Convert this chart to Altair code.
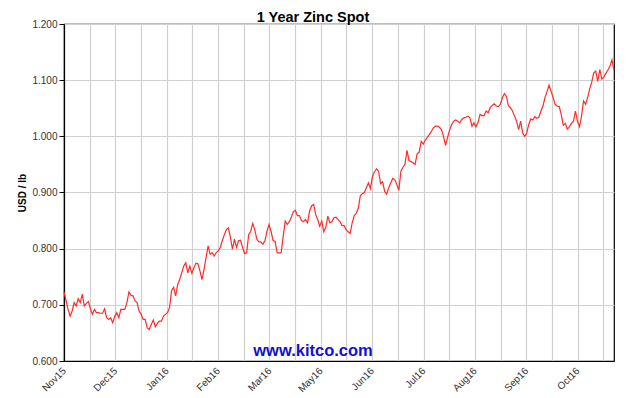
import json
import altair as alt
import pandas as pd

# Zinc spot price, USD / lb (about one point per trading day)
zinc_usd_lb = [
    0.723, 0.708, 0.692, 0.680, 0.689, 0.704, 0.698, 0.711, 0.704, 0.719,
    0.698, 0.702, 0.706, 0.693, 0.683, 0.692, 0.686, 0.686, 0.685, 0.685,
    0.693, 0.677, 0.674, 0.677, 0.668, 0.680, 0.686, 0.677, 0.692, 0.692,
    0.692, 0.704, 0.723, 0.717, 0.716, 0.707, 0.704, 0.689, 0.683, 0.674,
    0.674, 0.659, 0.656, 0.665, 0.673, 0.661, 0.667, 0.671, 0.671, 0.680,
    0.683, 0.686, 0.695, 0.725, 0.731, 0.716, 0.736, 0.745, 0.757, 0.769,
    0.775, 0.757, 0.769, 0.756, 0.766, 0.774, 0.773, 0.760, 0.745, 0.763,
    0.784, 0.805, 0.790, 0.793, 0.787, 0.793, 0.796, 0.802, 0.814, 0.825,
    0.834, 0.837, 0.820, 0.799, 0.817, 0.802, 0.814, 0.815, 0.802, 0.791,
    0.793, 0.825, 0.831, 0.845, 0.834, 0.817, 0.812, 0.812, 0.808, 0.814,
    0.831, 0.843, 0.831, 0.815, 0.813, 0.793, 0.792, 0.793, 0.822, 0.849,
    0.843, 0.848, 0.856, 0.866, 0.868, 0.859, 0.859, 0.850, 0.848, 0.852,
    0.846, 0.867, 0.876, 0.879, 0.861, 0.852, 0.840, 0.849, 0.830, 0.838,
    0.858, 0.846, 0.848, 0.855, 0.856, 0.852, 0.848, 0.841, 0.841, 0.834,
    0.830, 0.827, 0.846, 0.859, 0.863, 0.872, 0.894, 0.898, 0.900, 0.909,
    0.917, 0.907, 0.929, 0.937, 0.942, 0.938, 0.916, 0.919, 0.902, 0.897,
    0.909, 0.917, 0.925, 0.923, 0.914, 0.904, 0.938, 0.945, 0.950, 0.975,
    0.957, 0.955, 0.953, 0.950, 0.969, 0.972, 0.991, 0.986, 0.993, 0.998,
    1.003, 1.009, 1.015, 1.018, 1.018, 1.016, 1.012, 1.000, 0.984, 0.998,
    1.011, 1.021, 1.027, 1.029, 1.027, 1.024, 1.030, 1.033, 1.034, 1.036,
    1.033, 1.018, 1.024, 1.017, 1.025, 1.039, 1.037, 1.037, 1.045, 1.042,
    1.051, 1.055, 1.058, 1.054, 1.053, 1.057, 1.069, 1.076, 1.071, 1.054,
    1.051, 1.045, 1.036, 1.027, 1.012, 1.027, 1.006, 1.000, 1.006, 1.021,
    1.031, 1.029, 1.035, 1.032, 1.034, 1.045, 1.054, 1.069, 1.080, 1.091,
    1.080, 1.069, 1.057, 1.054, 1.053, 1.039, 1.020, 1.023, 1.013, 1.017,
    1.023, 1.027, 1.045, 1.027, 1.017, 1.036, 1.063, 1.057, 1.069, 1.084,
    1.096, 1.113, 1.116, 1.098, 1.119, 1.102, 1.106, 1.112, 1.118, 1.125,
    1.136, 1.118,
]

month_labels = ["Nov15", "Dec15", "Jan16", "Feb16", "Mar16", "May16",
                "Jun16", "Jul16", "Aug16", "Sep16", "Oct16"]
grid_step_days = 12      # trading days between vertical grid lines
label_every = 2          # a month label on every second grid line
span_days = 257          # trading days covered by the chart
y_ticks = [0.6, 0.7, 0.8, 0.9, 1.0, 1.1, 1.2]

n = len(zinc_usd_lb)
df = pd.DataFrame({
    "day": [i * span_days / (n - 1) for i in range(n)],
    "price": zinc_usd_lb,
})

grid_vals = list(range(0, span_days + 1, grid_step_days))
step = grid_step_days * label_every
label_expr = (
    f"datum.value % {step} == 0 ? "
    f"({json.dumps(month_labels)})[datum.value / {step}] || '' : ''"
)

FONT = "Liberation Sans"

line = alt.Chart(df).mark_line(color="#ff2a2a", strokeWidth=1.2).encode(
    x=alt.X(
        "day:Q",
        scale=alt.Scale(domain=[0, span_days], nice=False, zero=False),
        axis=alt.Axis(
            values=grid_vals, labelExpr=label_expr, labelAngle=-45,
            labelAlign="right", labelBaseline="middle", ticks=False,
            title=None, grid=True, gridColor="#d0d0d0", gridWidth=1.2,
            domainColor="black", domainWidth=1.2, labelFontSize=10,
            labelFont=FONT, labelColor="#333333", labelPadding=8,
            labelOverlap=False,
        ),
    ),
    y=alt.Y(
        "price:Q",
        scale=alt.Scale(domain=[0.6, 1.2], nice=False, zero=False),
        axis=alt.Axis(
            values=y_ticks, format=".3f", title="USD / lb",
            titleFont=FONT, titleFontSize=10, titleFontWeight="bold",
            titleColor="black", titlePadding=4, tickSize=5,
            tickColor="black", domainColor="black", domainWidth=1.2,
            grid=True, gridColor="#d0d0d0", gridWidth=1.2,
            labelFontSize=10, labelFont=FONT, labelColor="#333333",
            labelPadding=2,
        ),
    ),
)

mark = alt.Chart(pd.DataFrame({"t": ["www.kitco.com"]})).mark_text(
    font=FONT, fontSize=16.5, fontWeight="bold", color="#1010d0",
    align="center", baseline="middle",
).encode(text="t:N", x=alt.value(249), y=alt.value(327))

chart = alt.layer(line, mark).properties(
    width=550,
    height=337,
    title=alt.Title(
        "1 Year Zinc Spot", font=FONT, fontSize=14.5, fontWeight="bold",
        color="black", anchor="middle", dx=-26, offset=-6,
    ),
    autosize=alt.AutoSizeParams(type="none"),
    padding={"left": 56, "top": 16, "right": 5, "bottom": 37},
).configure_view(stroke="black", strokeWidth=1.2)

chart.save("out.html", embed_options={"renderer": "svg", "actions": False})
